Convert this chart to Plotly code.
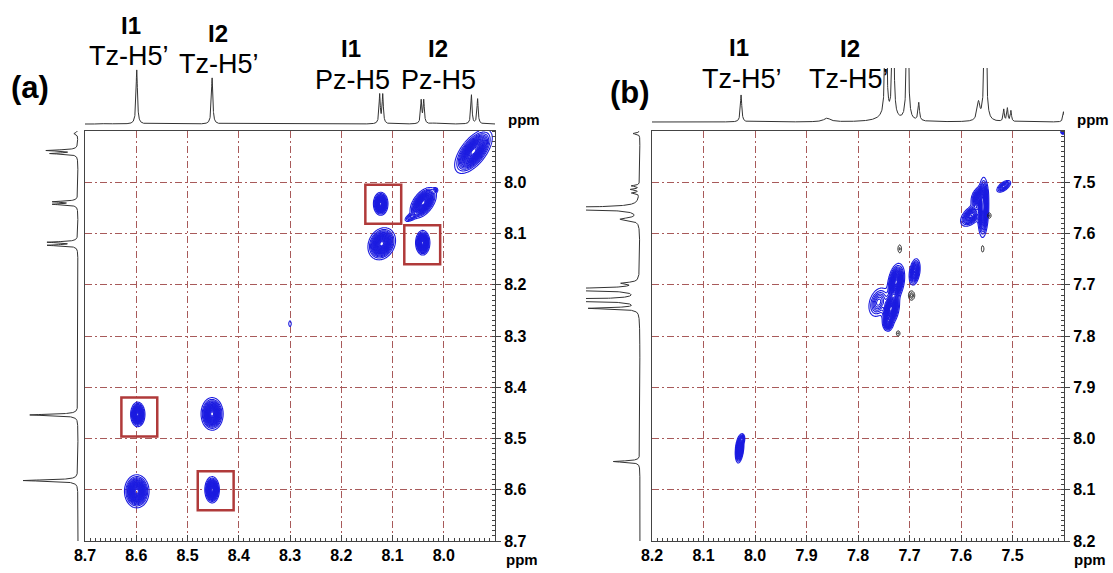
import numpy as np
import plotly.graph_objects as go

W, H = 1113, 573

# ======================= DATA =======================
# ---- panel (a) ----
a_xticks = [8.7, 8.6, 8.5, 8.4, 8.3, 8.2, 8.1, 8.0]
a_yticks = [8.0, 8.1, 8.2, 8.3, 8.4, 8.5, 8.6, 8.7]
a_range = [8.7, 7.9]

# top 1D projection: position (ppm), intensity, half-width
a_top_ppm = [8.657, 8.599, 8.452, 8.125, 8.119, 8.044, 8.039, 8.018, 7.946, 7.934]
a_top_int = [0.012, 0.82, 0.70, 0.44, 0.44, 0.35, 0.35, 0.015, 0.44, 0.38]
a_top_hw = [0.006, 0.0016, 0.0016, 0.0014, 0.0014, 0.0014, 0.0014, 0.005, 0.0014, 0.0014]
a_top_base = 0.06

# left 1D projection
a_side_ppm = [7.905, 7.938, 7.944, 8.038, 8.043, 8.117, 8.123, 8.454, 8.582]
a_side_int = [0.06, 0.46, 0.40, 0.36, 0.36, 0.44, 0.44, 0.72, 0.82]
a_side_hw = [0.002, 0.0014, 0.0014, 0.0014, 0.0014, 0.0014, 0.0014, 0.0016, 0.0016]
a_side_base = 0.06

# 2D cross peaks (blue): F2 (x), F1 (y), widths, tilt, amplitude
a_pk_f2 = [7.942, 8.123, 8.040, 8.016, 8.064, 8.121, 8.041, 8.597, 8.452, 8.599, 8.452, 8.300]
a_pk_f1 = [7.940, 8.042, 8.040, 8.015, 8.068, 8.120, 8.118, 8.453, 8.452, 8.603, 8.600, 8.276]
a_pk_sf2 = [0.0150, 0.0058, 0.0105, 0.0025, 0.0065, 0.0110, 0.0057, 0.0057, 0.0088, 0.0098, 0.0058, 0.0020]
a_pk_sf1 = [0.0175, 0.0092, 0.0122, 0.0025, 0.0048, 0.0128, 0.0098, 0.0098, 0.0130, 0.0132, 0.0105, 0.0045]
a_pk_rho = [0.62, 0.0, 0.5, 0.0, 0.6, 0.2, 0.0, 0.0, 0.0, 0.0, 0.0, 0.0]
a_pk_amp = [1.0, 1.0, 1.0, 0.16, 0.22, 1.0, 1.0, 1.0, 1.0, 1.0, 1.0, 0.1]

# highlighted cross peaks (red boxes)
a_box_f2 = [8.118, 8.042, 8.594, 8.445]
a_box_f1 = [8.043, 8.122, 8.458, 8.602]

a_lab_top = ["I1", "I2", "I1", "I2"]
a_lab_bot = ["Tz-H5\u2019", "Tz-H5\u2019", "Pz-H5", "Pz-H5"]

# ---- panel (b) ----
b_xticks = [8.2, 8.1, 8.0, 7.9, 7.8, 7.7, 7.6, 7.5]
b_yticks = [7.5, 7.6, 7.7, 7.8, 7.9, 8.0, 8.1, 8.2]
b_range = [8.2, 7.4]

b_top_ppm = [8.027, 7.860, 7.745, 7.746, 7.732, 7.704, 7.682, 7.566, 7.553, 7.517, 7.510, 7.503, 7.401]
b_top_int = [0.45, 0.06, 0.08, 3.0, 3.0, 3.0, 0.30, 0.30, 3.0, 0.20, 0.22, 0.18, 0.17]
b_top_hw = [0.0016, 0.008, 0.02, 0.0015, 0.0015, 0.0016, 0.0016, 0.003, 0.0018, 0.0013, 0.0013, 0.0013, 0.0015]
b_top_base = 0.10

b_side_ppm = [7.405, 7.507, 7.514, 7.521, 7.551, 7.572, 7.697, 7.709, 7.730, 7.746, 8.045]
b_side_int = [0.11, 0.13, 0.14, 0.12, 3.0, 0.30, 0.25, 3.0, 3.0, 0.80, 0.43]
b_side_hw = [0.0015, 0.0013, 0.0013, 0.0013, 0.0018, 0.003, 0.002, 0.0016, 0.0016, 0.0016, 0.0016]
b_side_base = 0.13

b_pk_f2 = [8.030, 8.024, 7.760, 7.726, 7.736, 7.742, 7.690, 7.557, 7.580, 7.566, 7.517, 7.402]
b_pk_f1 = [8.020, 8.000, 7.734, 7.695, 7.747, 7.775, 7.675, 7.549, 7.565, 7.530, 7.508, 7.402]
b_pk_sf2 = [0.0035, 0.0022, 0.0095, 0.0068, 0.0068, 0.0045, 0.0048, 0.0045, 0.0095, 0.0065, 0.0068, 0.0022]
b_pk_sf1 = [0.0115, 0.0045, 0.0140, 0.0150, 0.0140, 0.0070, 0.0115, 0.0240, 0.0095, 0.0095, 0.0058, 0.0022]
b_pk_rho = [0.3, 0.0, 0.3, 0.3, 0.3, 0.0, 0.3, 0.1, 0.5, 0.3, 0.6, 0.0]
b_pk_amp = [0.9, 0.25, 0.35, 1.0, 1.0, 0.5, 0.6, 1.0, 0.55, 0.6, 0.35, 0.3]

# negative (black) contours
b_neg_f2 = [7.719, 7.696, 7.722, 7.545, 7.558]
b_neg_f1 = [7.630, 7.721, 7.795, 7.565, 7.630]
b_neg_sf2 = [0.0020, 0.0030, 0.0020, 0.0020, 0.0015]
b_neg_sf1 = [0.0045, 0.0045, 0.0030, 0.0030, 0.0040]
b_neg_amp = [0.5, 0.9, 0.5, 0.5, 0.4]

b_lab_top = ["I1", "I2"]
b_lab_bot = ["Tz-H5\u2019", "Tz-H5\u2019"]

# ======================= HELPERS =======================
FONT = "Liberation Sans, Arial, Helvetica, sans-serif"
BLUE = "#1c1ce0"
SPEC = "#333333"
AX = "#444444"
GRID = "#a85a5a"
RED = "#b03a3a"


def px_x(p):
    return p / W


def px_y(p):
    return 1 - p / H


def spectrum(grid, pos, inten, hw, base):
    s = np.full_like(grid, base, dtype=float)
    for p, a, w in zip(pos, inten, hw):
        s += a * w * w / ((grid - p) ** 2 + w * w)
    return s


def surface(xg, yg, f2, f1, s2, s1, rho, amp):
    X, Y = np.meshgrid(xg, yg)
    Z = np.zeros_like(X)
    for x0, y0, a2, a1, r, a in zip(f2, f1, s2, s1, rho, amp):
        dx = (X - x0) / a2
        dy = (Y - y0) / a1
        q = (dx * dx - 2 * r * dx * dy + dy * dy) / (1 - r * r)
        Z += a * np.exp(-0.5 * q)
    return Z.astype(np.float32)


fig = go.Figure()


def add_panel(n, rng, xticks, yticks, box_l, box_r, box_t, box_b,
              top_dom, top_data, side_dom, side_data, pk, neg=None, boxes=None):
    xa = "x" if n == 0 else f"x{n + 1}"
    ya = "y" if n == 0 else f"y{n + 1}"
    xa2, ya2 = f"x{n + 2}", f"y{n + 2}"
    xa3, ya3 = f"x{n + 3}", f"y{n + 3}"
    lo, hi = min(rng), max(rng)

    # 2D contours
    g = np.linspace(lo, hi, 560)
    Z = surface(g, g, *pk)
    fig.add_trace(go.Contour(
        x=g, y=g, z=Z, xaxis=xa, yaxis=ya, showscale=False, hoverinfo="skip",
        contours=dict(start=0.05, end=0.98, size=0.045, coloring="lines"),
        colorscale=[[0, BLUE], [1, BLUE]], line=dict(width=1.1, smoothing=1)))
    if neg is not None:
        f2, f1, s2, s1, amp = neg
        Zn = surface(g, g, f2, f1, s2, s1, [0] * len(f2), amp)
        fig.add_trace(go.Contour(
            x=g, y=g, z=Zn, xaxis=xa, yaxis=ya, showscale=False, hoverinfo="skip",
            contours=dict(start=0.12, end=0.9, size=0.3, coloring="lines"),
            colorscale=[[0, "#222"], [1, "#222"]], line=dict(width=1, smoothing=1)))

    # 1D projections
    gg = np.linspace(lo, hi, 5000)
    fig.add_trace(go.Scatter(x=gg, y=spectrum(gg, *top_data), xaxis=xa2, yaxis=ya2,
                             mode="lines", line=dict(color=SPEC, width=1), hoverinfo="skip"))
    fig.add_trace(go.Scatter(x=spectrum(gg, *side_data), y=gg, xaxis=xa3, yaxis=ya3,
                             mode="lines", line=dict(color=SPEC, width=1), hoverinfo="skip"))

    tf = dict(family=FONT, size=16, color="black")
    common = dict(showline=True, linecolor=AX, linewidth=1, mirror=True, automargin=False,
                  showgrid=True, gridcolor=GRID, griddash="7px,3px,2px,3px", gridwidth=1,
                  zeroline=False, tickfont=tf, tickcolor=AX, tickmode="array")
    hidden = dict(visible=False, automargin=False, fixedrange=True)
    key = "xaxis" if n == 0 else f"xaxis{n + 1}"
    ykey = "yaxis" if n == 0 else f"yaxis{n + 1}"
    layout = {}
    layout[key] = dict(domain=[px_x(box_l), px_x(box_r)], range=rng, anchor=ya,
                       tickvals=xticks, ticktext=[f"<b>{v:.1f}</b>" for v in xticks],
                       ticks="inside", ticklen=6,
                       minor=dict(tickmode="linear", tick0=lo, dtick=0.01, ticks="inside",
                                  ticklen=3, tickcolor=AX, showgrid=False), **common)
    layout[ykey] = dict(domain=[px_y(box_b), px_y(box_t)], range=rng, anchor=xa, side="right",
                        tickvals=yticks, ticktext=[f"<b>{v:.1f}</b>" for v in yticks],
                        ticks="outside", ticklen=5,
                        minor=dict(tickmode="linear", tick0=lo, dtick=0.01, ticks="inside",
                                   ticklen=3, tickcolor=AX, showgrid=False), **common)
    layout[f"xaxis{n + 2}"] = dict(domain=[px_x(box_l), px_x(box_r)], range=rng, anchor=ya2, **hidden)
    layout[f"yaxis{n + 2}"] = dict(domain=[px_y(top_dom[1]), px_y(top_dom[0])], range=[0, 1],
                                   anchor=xa2, **hidden)
    layout[f"xaxis{n + 3}"] = dict(domain=[px_x(side_dom[0]), px_x(side_dom[1])], range=[1, 0],
                                   anchor=ya3, **hidden)
    layout[f"yaxis{n + 3}"] = dict(domain=[px_y(box_b), px_y(box_t)], range=rng, anchor=xa3, **hidden)
    fig.update_layout(**layout)

    if boxes is not None:
        for cx, cy in zip(*boxes):
            fig.add_shape(type="rect", xref=xa, yref=ya, x0=cx + 0.035, x1=cx - 0.035,
                          y0=cy - 0.038, y1=cy + 0.038, line=dict(color=RED, width=2.5))


add_panel(0, a_range, a_xticks, a_yticks, 85, 495, 131, 541,
          (62, 128), (a_top_ppm, a_top_int, a_top_hw, a_top_base),
          (15, 82), (a_side_ppm, a_side_int, a_side_hw, a_side_base),
          (a_pk_f2, a_pk_f1, a_pk_sf2, a_pk_sf1, a_pk_rho, a_pk_amp),
          boxes=(a_box_f2, a_box_f1))

add_panel(3, b_range, b_xticks, b_yticks, 652, 1064, 131, 541,
          (68, 128), (b_top_ppm, b_top_int, b_top_hw, b_top_base),
          (586, 648), (b_side_ppm, b_side_int, b_side_hw, b_side_base),
          (b_pk_f2, b_pk_f1, b_pk_sf2, b_pk_sf1, b_pk_rho, b_pk_amp),
          neg=(b_neg_f2, b_neg_f1, b_neg_sf2, b_neg_sf1, b_neg_amp))

# ======================= TEXT =======================
ann = []


def txt(s, x, y, size, bold=False):
    ann.append(dict(text=f"<b>{s}</b>" if bold else s, x=px_x(x), y=px_y(y), xref="paper", yref="paper",
                    xanchor="center", yanchor="middle", showarrow=False,
                    font=dict(family=FONT, size=size, color="black")))


txt("(a)", 30, 87, 31, True)
txt("(b)", 630, 92, 31, True)
for s, (x, y) in zip(a_lab_top, [(131, 25), (218, 34), (351, 49), (438, 49)]):
    txt(s, x, y, 24, True)
for s, (x, y) in zip(a_lab_bot, [(129, 56), (219, 64), (352, 80), (438, 80)]):
    txt(s, x, y, 27)
for s, (x, y) in zip(b_lab_top, [(739, 47), (850, 49)]):
    txt(s, x, y, 24, True)
for s, (x, y) in zip(b_lab_bot, [(742, 79), (849, 79)]):
    txt(s, x, y, 27)
for x, y in [(524, 119), (522, 559), (1093, 119), (1090, 559)]:
    txt("ppm", x, y, 15, True)

fig.update_layout(width=W, height=H, margin=dict(l=0, r=0, t=0, b=0, autoexpand=False),
                  paper_bgcolor="white", plot_bgcolor="white", showlegend=False,
                  annotations=ann)

fig.write_html("out.html", config={"displayModeBar": False},
               post_script="document.body.style.margin='0';document.body.style.padding='0';"
                           "document.body.style.overflow='hidden';")
